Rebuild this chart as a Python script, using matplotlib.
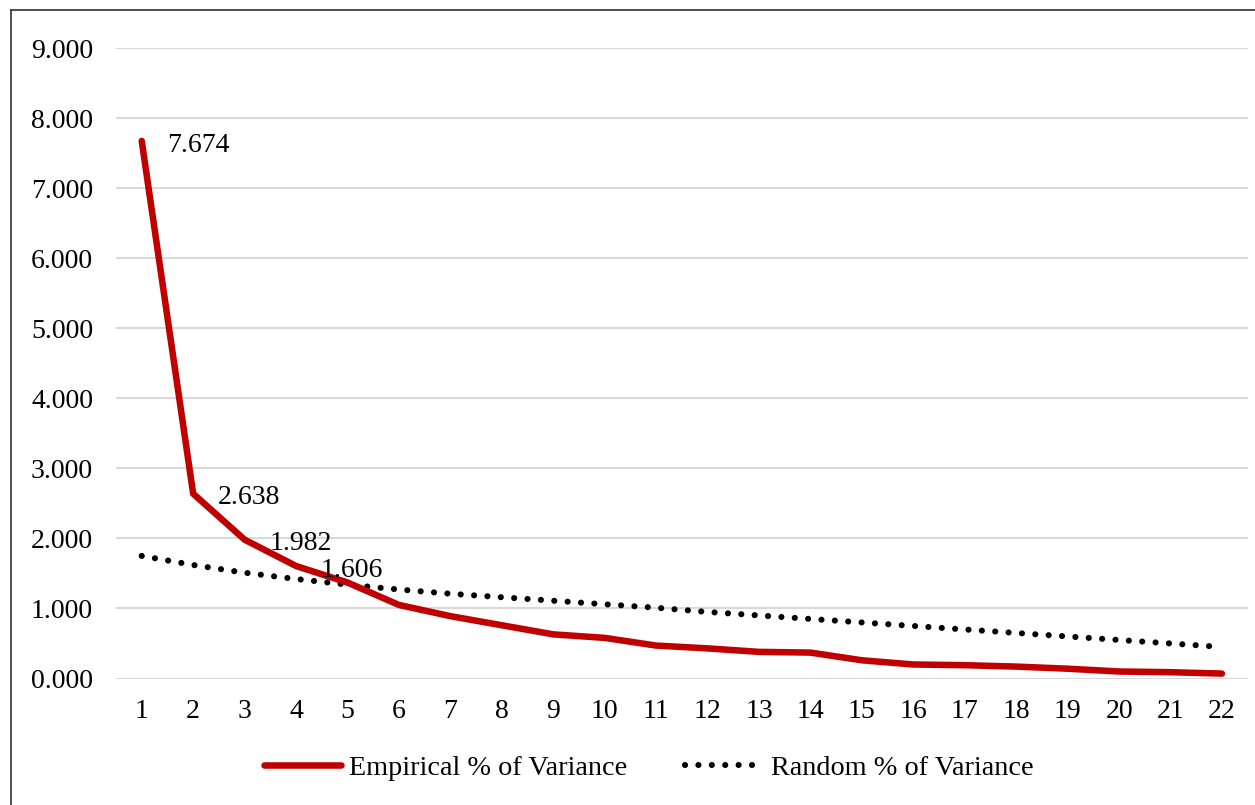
import matplotlib
matplotlib.use("Agg")
import matplotlib.pyplot as plt
from matplotlib.ticker import FuncFormatter, MultipleLocator
from matplotlib.lines import Line2D

components = list(range(1, 23))
empirical = [7.674, 2.638, 1.982, 1.606, 1.37, 1.05, 0.89, 0.76, 0.63, 0.58,
             0.47, 0.43, 0.38, 0.37, 0.26, 0.20, 0.19, 0.17, 0.14, 0.10, 0.09, 0.07]
random_ = [1.75, 1.62, 1.51, 1.42, 1.34, 1.27, 1.21, 1.16, 1.11, 1.06, 1.01,
           0.95, 0.90, 0.85, 0.80, 0.75, 0.70, 0.65, 0.60, 0.55, 0.50, 0.45]
labelled = [0, 1, 2, 3]
series_names = ["Empirical % of Variance", "Random % of Variance"]

plt.rcParams['font.family'] = ['Liberation Serif', 'DejaVu Serif']
FS = 20
LFS = 20.3

W, H = 1255, 805
fig = plt.figure(figsize=(W / 100, H / 100), dpi=100)
ax = fig.add_axes([116 / W, 1 - 678.5 / H, (1247.7 - 116) / W, (678.5 - 48) / H])

red = '#C00000'
DOT_LW = 4.4
DOT_STYLE = (0, (0.01, 9.6 / DOT_LW))
ax.plot(components, empirical, color=red, lw=4.7, solid_capstyle='round',
        solid_joinstyle='round', zorder=3)
ax.plot(components, random_, color='black', lw=DOT_LW, linestyle=DOT_STYLE,
        dash_capstyle='round', zorder=2)

for i in labelled:
    ax.annotate(f"{empirical[i]:.3f}", (components[i], empirical[i]),
                xytext=(18, -3), textcoords='offset points',
                ha='left', va='center', fontsize=FS, color='black', zorder=4)

ax.set_xlim(0.5, 22.5)
ax.set_ylim(0, 9)
ax.set_xticks(components)
ax.set_xticklabels([str(c) for c in components])
ax.yaxis.set_major_locator(MultipleLocator(1))
ax.yaxis.set_major_formatter(FuncFormatter(lambda v, p: f"{v:.3f}"))
ax.grid(axis='y', color='#D9D9D9', lw=1.5)
ax.set_axisbelow(True)
for s in ax.spines.values():
    s.set_visible(False)
ax.tick_params(axis='both', length=0, labelsize=FS)
ax.tick_params(axis='y', pad=16.5)
ax.tick_params(axis='x', pad=15)

handles = [Line2D([], [], color=red, lw=4.7, solid_capstyle='round'),
           Line2D([], [], color='black', lw=DOT_LW, linestyle=DOT_STYLE,
                  dash_capstyle='round')]
fig.legend(handles, series_names, loc='center', bbox_to_anchor=(648.5 / W, 1 - 768 / H),
           ncol=2, frameon=False, fontsize=LFS, handlelength=2.75, handletextpad=0.28,
           columnspacing=2.05)

# outer border (left and top visible)
fig.add_artist(Line2D([11 / W, 11 / W], [0, 1 - 10 / H], transform=fig.transFigure,
                      color='#404040', lw=1.3))
fig.add_artist(Line2D([11 / W, 1], [1 - 10 / H, 1 - 10 / H], transform=fig.transFigure,
                      color='#404040', lw=1.3))

fig.savefig('out.png', dpi=100, facecolor='white')
